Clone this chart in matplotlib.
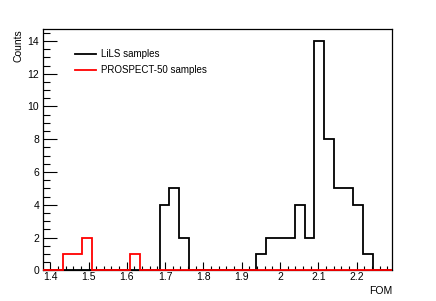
import numpy as np
import matplotlib
matplotlib.use("Agg")
import matplotlib.pyplot as plt
from matplotlib.ticker import MultipleLocator

# histogram binning (36 bins)
xmin, xmax, nbins = 1.382, 2.292, 36
edges = np.linspace(xmin, xmax, nbins + 1)

# bin contents
lils = np.zeros(nbins)
lils[[12, 13, 14]] = [4, 5, 2]
lils[22:34] = [1, 2, 2, 2, 4, 2, 14, 8, 5, 5, 4, 1]

p50 = np.zeros(nbins)
p50[[2, 3, 4, 9]] = [1, 1, 2, 1]

plt.rcParams['font.family'] = ['Liberation Sans', 'DejaVu Sans']

fig = plt.figure(figsize=(4.36, 3.01), dpi=100)
ax = fig.add_axes([0.0993, 0.102, 0.7997, 0.8]) # ROOT-like margins

ax.stairs(lils, edges, baseline=0, color='black', lw=1.3, zorder=3, clip_on=False)
ax.stairs(p50, edges, baseline=0, color='red', lw=1.3, zorder=4, clip_on=False)

ax.set_xlim(xmin, xmax)
ax.set_ylim(0, 14.7)

ax.xaxis.set_major_locator(MultipleLocator(0.1))
ax.xaxis.set_minor_locator(MultipleLocator(0.02))
ax.yaxis.set_major_locator(MultipleLocator(2))
ax.yaxis.set_minor_locator(MultipleLocator(0.5))
ax.xaxis.set_major_formatter(plt.FuncFormatter(lambda v, p: ('%g' % round(v, 2))))
ax.tick_params(which='both', direction='in', top=False, right=False, labelsize=7.5, width=0.8)
ax.tick_params(which='major', axis='y', length=10, pad=3)
ax.tick_params(which='minor', axis='y', length=5)
ax.tick_params(which='major', axis='x', length=6, pad=1)
ax.tick_params(which='minor', axis='x', length=3)
for s in ax.spines.values():
    s.set_linewidth(0.9)

ax.set_xlabel('FOM', fontsize=7.5, loc='right', labelpad=3)
ax.set_ylabel('Counts', fontsize=7.5, loc='top', labelpad=3)

ax.legend(loc='upper left', bbox_to_anchor=(0.065, 0.955), frameon=False, fontsize=7,
          handlelength=2.2, handletextpad=0.5, labelspacing=0.65,
          handles=[plt.Line2D([], [], color='black', lw=1.3), plt.Line2D([], [], color='red', lw=1.3)],
          labels=['LiLS samples', 'PROSPECT-50 samples'])

fig.savefig('out.png', dpi=100)
